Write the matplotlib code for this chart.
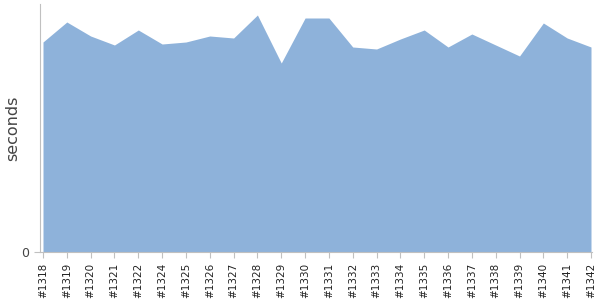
import matplotlib
matplotlib.use("Agg")
import matplotlib.pyplot as plt
import numpy as np

builds = ["#1318", "#1319", "#1320", "#1321", "#1322", "#1324", "#1325", "#1326",
          "#1327", "#1328", "#1329", "#1330", "#1331", "#1332", "#1333", "#1334",
          "#1335", "#1336", "#1337", "#1338", "#1339", "#1340", "#1341", "#1342"]
seconds = [210, 230, 216, 207, 222, 208, 210, 216,
           214, 237, 189, 234, 234, 205, 203, 213,
           222, 205, 218, 207, 196, 229, 214, 205]

fig = plt.figure(figsize=(6, 3), dpi=100)
ax = fig.add_axes([40/600, 48/300, 552/600, 248/300])

x = np.arange(len(builds))
ax.fill_between(x, 0, seconds, color="#8eb2da", linewidth=0)

ax.set_xlim(-3/23.83, len(builds) - 1 + 1/23.83)
ax.set_ylim(0, 248)

ax.set_xticks(x)
ax.set_xticklabels(builds, rotation=90, fontsize=7.5, color="#222222")
ax.set_yticks([0])
ax.set_yticklabels(["0"], fontsize=9, color="#444444")
ax.set_ylabel("seconds", fontsize=11.5, color="#444444")
ax.yaxis.set_label_coords(-20/552, 0.5)

for s in ["top", "right"]:
    ax.spines[s].set_visible(False)
ax.spines["left"].set_color("#c0c0c0")
ax.spines["bottom"].set_color("#c0c0c0")
ax.tick_params(axis="both", colors="#c0c0c0", length=4, width=0.8)
for lbl in ax.get_xticklabels():
    lbl.set_color("#222222")
for lbl in ax.get_yticklabels():
    lbl.set_color("#444444")

fig.savefig("out.png", dpi=100)
